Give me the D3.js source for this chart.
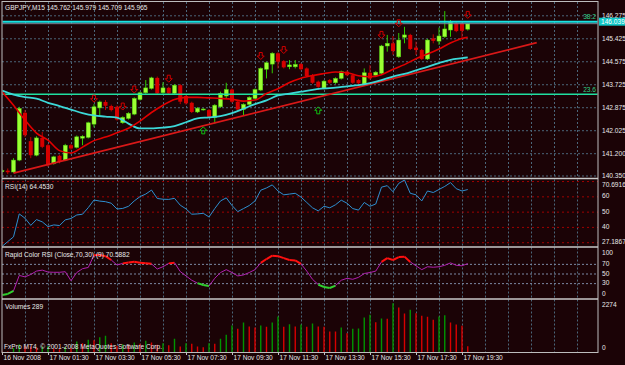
<!DOCTYPE html>
<html>
<head>
<meta charset="utf-8">
<script src="https://cdn.jsdelivr.net/npm/d3@7"></script>
<style>
	body { margin: 0; background: #1b0306; overflow: hidden; }
	svg text { font-family: "Liberation Sans", Arial, sans-serif; font-size: 6.6px; fill: #e8e8e8; }
	.grid path { display: none; }
	.grid line { stroke: #4b6679; stroke-dasharray: 2,2; }
	.level-red line { stroke: #a00000; stroke-dasharray: 2,3; }
	.level-gray line { stroke: #7d8aa5; stroke-dasharray: 2,2; }
	.axis path { display: none; }
	.axis line { stroke: #c0c0c0; }
</style>
</head>
<body>
<div id="svg-div"></div>
<script>
// GBPJPY M15 candles
var opens = [140.49,140.53,140.48,140.92,142.67,141.62,141.10,141.74,141.47,140.79,141.08,140.92,141.47,141.39,141.73,141.76,142.25,142.85,143.07,142.92,
	142.89,142.30,142.46,142.62,143.16,143.41,143.57,143.96,143.41,143.59,143.39,143.69,143.29,143.04,142.70,142.78,142.77,142.50,142.89,143.29,
	143.53,143.08,142.79,142.98,143.20,143.51,144.28,144.47,144.87,144.58,144.37,144.37,144.47,144.31,144.06,143.82,143.57,143.88,143.78,143.94,
	144.19,144.06,143.88,143.73,144.15,144.06,144.13,145.14,145.24,144.74,145.46,145.55,145.08,144.99,144.66,145.42,145.32,145.48,145.73,145.98,
	145.98,145.762];
var highs = [140.58,140.61,140.99,142.89,142.77,141.77,141.80,141.96,141.52,141.08,141.12,141.52,141.52,141.83,141.84,142.34,142.99,143.12,143.14,142.97,
	142.94,142.54,142.69,143.24,143.45,143.88,144.00,144.01,143.80,143.63,143.73,143.73,143.33,143.08,142.88,142.84,142.81,142.99,143.45,143.78,
	143.57,143.12,143.02,143.28,143.57,144.35,144.56,144.91,144.91,144.62,144.62,144.62,144.51,144.35,144.10,143.86,143.88,143.92,143.98,144.23,
	144.23,144.10,143.92,144.31,144.43,144.21,145.18,145.55,145.51,145.62,145.85,145.59,145.30,145.03,145.40,145.57,145.82,146.43,146.10,146.05,
	146.02,145.979];
var lows = [140.43,140.40,140.44,140.88,141.77,140.99,141.06,141.36,140.67,140.75,140.80,140.88,141.30,141.35,141.47,141.72,142.13,142.55,142.77,142.72,
	142.38,142.26,142.42,142.58,143.12,143.37,143.53,143.35,143.37,143.35,143.35,142.99,142.97,142.66,142.66,142.75,142.48,142.27,142.85,143.20,
	143.04,142.75,142.58,142.94,143.16,143.47,143.94,144.13,144.31,144.31,144.28,144.31,144.24,143.99,143.74,143.51,143.53,143.74,143.74,143.90,
	144.02,143.74,143.72,143.69,143.90,144.02,144.09,144.93,144.81,144.70,145.24,144.99,144.81,144.62,144.62,145.24,145.18,145.44,145.48,145.65,
	145.44,145.709];
var closes = [140.53,140.47,140.92,142.83,141.84,141.10,141.74,141.41,140.73,141.04,140.85,141.47,141.35,141.78,141.80,142.30,142.89,143.07,142.93,142.77,
	142.42,142.50,142.65,143.20,143.41,143.59,143.96,143.39,143.59,143.39,143.69,143.08,143.02,142.70,142.84,142.81,142.52,142.95,143.39,143.53,
	143.08,142.79,142.98,143.24,143.53,144.31,144.52,144.87,144.56,144.35,144.44,144.46,144.28,144.03,143.78,143.63,143.84,143.78,143.94,144.19,
	144.06,143.78,143.76,144.15,143.94,144.17,145.14,145.24,144.95,145.36,145.55,145.03,144.99,144.66,145.36,145.33,145.51,145.77,146.02,145.69,
	145.70,145.965];
var volumes = [80,40,200,380,300,260,230,270,300,180,150,260,200,500,423,578,560,696,760,420,
	300,380,330,460,400,532,455,350,420,330,623,273,423,396,273,241,423,400,623,805,
	1228,1078,1364,1182,1137,1228,1167,1364,1637,1167,1288,1182,1273,1167,1319,1182,1170,955,955,1137,
	879,1078,1091,1592,1713,1380,1546,1531,2243,2047,1774,1941,1788,1667,1622,1485,1637,1698,1364,1273,
	1213,289];
var rsiValues = [27.19,30.4,33.5,48.5,45.7,41,44.8,43.3,40.2,41.3,40.9,44.6,45.5,47.8,48.3,52.6,57.6,56.9,56.5,55.5,
	51.7,52.1,53.5,57,59.8,61.5,64.1,58.6,58.1,58,58.7,54.2,51.8,48.3,48.5,48.9,46.5,52,57,59,
	54,50,52,54,57,64,65.5,67.5,63.5,61,61.5,62,59.5,56,52.5,50.5,53.5,52.5,54.5,57.5,
	55.5,52,51,56,53.5,55,66,67,63,68.5,70.69,62,61,57,63.5,62.5,64.5,66.5,69,65,
	63.5,64.45];
var rapidRsiValues = [5.4,7.5,14,46,43,48,55,57,53,52.5,52.5,53.7,35,52,60,62.5,88,88.3,86,78,
	67.6,71,73,74.5,72.4,71.5,70,59.3,64.1,71,72.4,54,45,36,30,26,24,40,52,58,
	52,45,47,52,58,72,80,87,86,82,78,77,70,55,38,27,22,20,25,36,
	40,38,42,50,52,55,74,82,78,84,85,74,66,58,64,63,64,67,72,67,
	66,70.59];

// moving averages as [bar, price]
var maFast = [[0,143.45],[2,142.95],[4,142.40],[6,141.92],[8,141.66],[10,141.27],[12,141.18],[14,141.40],[16,141.64],[18,141.77],
	[20,141.93],[22,142.10],[24,142.36],[26,142.68],[28,142.95],[30,143.16],[32,143.24],[34,143.24],[36,143.22],[38,143.20],
	[40,143.17],[42,143.10],[44,143.14],[46,143.38],[48,143.56],[50,143.79],[52,143.95],[54,144.05],[56,144.12],[58,144.18],
	[60,144.15],[62,144.04],[64,144.00],[66,144.08],[68,144.28],[70,144.45],[72,144.67],[74,144.84],[76,145.03],[78,145.25],
	[80,145.42],[81,145.46]];
var maSlow = [[0,143.49],[2,143.34],[4,143.25],[6,143.19],[8,143.04],[10,142.92],[12,142.79],[14,142.66],[16,142.57],[18,142.53],
	[20,142.49],[22,142.27],[24,142.09],[26,142.09],[28,142.12],[30,142.18],[32,142.32],[34,142.46],[36,142.50],[38,142.55],
	[40,142.66],[42,142.82],[44,142.99],[46,143.13],[48,143.31],[50,143.38],[52,143.45],[54,143.52],[56,143.57],[58,143.60],
	[60,143.65],[62,143.69],[64,143.77],[66,143.88],[68,144.01],[70,144.11],[72,144.24],[74,144.37],[76,144.51],[78,144.63],
	[80,144.69],[81,144.72]];
var trendLine = [[2,140.44],[93,145.26]];
var fibNames = ["38.2","23.6"];
var fibPrices = [146.039,143.353];
var bidPrice = 145.965;
var downArrows = [[16,143.19],[21,142.90],[23,143.53],[29,143.93],[45,144.77],[49,144.99],[66,145.55],[69,145.98],[81,146.29]];
var upArrows = [[35,142.02],[55,142.76]];

// axis ticks
var priceTicks = [146.275,145.425,144.575,143.725,142.875,142.025,141.175,140.35];
var priceLabels = ["146.275","145.425","144.575","143.725","142.875","142.025","141.200","140.350"];
var timeTicks = [0,8,16,24,32,40,48,56,64,72,80];
var timeLabels = ["16 Nov 2008","17 Nov 01:30","17 Nov 03:30","17 Nov 05:30","17 Nov 07:30","17 Nov 09:30",
	"17 Nov 11:30","17 Nov 13:30","17 Nov 15:30","17 Nov 17:30","17 Nov 19:30"];
var rsiTicks = [70.6916,60,50,40,27.1867];
var rsiLevels = [30,40,50,60,70];
var rapidTicks = [100,70,50,30,0];
var rapidLevels = [30,50,70];
var volTicks = [2274,0];

/**
 *  Chart Code
 */
var chart = {
	width: 625,
	height: 365,
	left: 2,
	right: 598,
	panels: {
		main: [2, 178],
		rsi: [179.5, 246.5],
		rapid: [247.5, 298.5],
		vol: [299.5, 352.5]
	}
};

var svg = d3.select("#svg-div")
	.append("svg")
	.attr("width", chart.width)
	.attr("height", chart.height);

svg.append("rect")
	.attr("width", chart.width)
	.attr("height", chart.height)
	.attr("fill", "#1b0306");

var defs = svg.append("defs");
Object.keys(chart.panels).forEach(function(k) {
	var p = chart.panels[k];
	defs.append("clipPath").attr("id", "clip-" + k)
		.append("rect")
		.attr("x", chart.left + 0.5)
		.attr("y", p[0])
		.attr("width", chart.right - chart.left - 1)
		.attr("height", p[1] - p[0]);
});

// Scales
var xScale = d3.scaleLinear().domain([0, 100]).range([2, 577]);
var yMain = d3.scaleLinear().domain([140.35, 146.275]).range([175.5, 15.3]);
var yRsi = d3.scaleLinear().domain([27.1867, 70.6916]).range([246.5, 180]);
var yRapid = d3.scaleLinear().domain([0, 100]).range([297.6, 249.4]);
var yVol = d3.scaleLinear().domain([0, 2274]).range([352.5, 302.5]);

// Gridlines
var gridTicks = d3.range(4, 104, 4);
Object.keys(chart.panels).forEach(function(k) {
	var p = chart.panels[k];
	svg.append("g")
		.attr("class", "grid")
		.attr("transform", "translate(0," + p[0] + ")")
		.call(d3.axisBottom(xScale).tickValues(gridTicks).tickSize(p[1] - p[0]).tickFormat(""));
});

svg.append("g")
	.attr("class", "grid")
	.attr("transform", "translate(" + chart.left + ",0)")
	.call(d3.axisRight(yMain).tickValues(priceTicks).tickSize(chart.right - chart.left).tickFormat(""));

svg.append("g")
	.attr("class", "grid level-red")
	.attr("transform", "translate(" + chart.left + ",0)")
	.call(d3.axisRight(yRsi).tickValues(rsiLevels).tickSize(chart.right - chart.left).tickFormat(""));

svg.append("g")
	.attr("class", "grid level-gray")
	.attr("transform", "translate(" + chart.left + ",0)")
	.call(d3.axisRight(yRapid).tickValues(rapidLevels).tickSize(chart.right - chart.left).tickFormat(""));

// Main panel
var mainG = svg.append("g").attr("clip-path", "url(#clip-main)");

var bars = opens.map(function(o, i) {
	return { i: i, o: o, h: highs[i], l: lows[i], c: closes[i] };
});

mainG.selectAll("line.wick")
	.data(bars)
	.enter()
	.append("line")
	.attr("class", "wick")
	.attr("x1", function(d) { return xScale(d.i); })
	.attr("x2", function(d) { return xScale(d.i); })
	.attr("y1", function(d) { return yMain(d.h); })
	.attr("y2", function(d) { return yMain(d.l); })
	.attr("stroke", function(d) { return d.c >= d.o ? "#2fcc00" : "#c00000"; })
	.attr("stroke-width", 1);

mainG.selectAll("rect.body")
	.data(bars)
	.enter()
	.append("rect")
	.attr("class", "body")
	.attr("x", function(d) { return xScale(d.i) - 2; })
	.attr("width", 4)
	.attr("y", function(d) { return yMain(Math.max(d.o, d.c)); })
	.attr("height", function(d) { return Math.max(1, Math.abs(yMain(d.o) - yMain(d.c))); })
	.attr("fill", function(d) { return d.c >= d.o ? "#9cff33" : "#d60000"; })
	.attr("stroke", function(d) { return d.c >= d.o ? "#4ccc10" : "none"; })
	.attr("stroke-width", 0.5);

// fibo levels + bid line
mainG.selectAll("line.fib")
	.data(fibPrices)
	.enter()
	.append("line")
	.attr("x1", chart.left)
	.attr("x2", chart.right)
	.attr("y1", function(d) { return yMain(d); })
	.attr("y2", function(d) { return yMain(d); })
	.attr("stroke", function(d, i) { return i == 0 ? "#19e3e3" : "#20e0a0"; })
	.attr("stroke-width", function(d, i) { return i == 0 ? 2 : 1.5; });

mainG.append("line")
	.attr("x1", chart.left).attr("x2", chart.right)
	.attr("y1", yMain(bidPrice)).attr("y2", yMain(bidPrice))
	.attr("stroke", "#778899")
	.attr("stroke-width", 1);

mainG.selectAll("text.fib")
	.data(fibPrices)
	.enter()
	.append("text")
	.attr("x", chart.right - 2)
	.attr("y", function(d) { return yMain(d) - 2.5; })
	.attr("text-anchor", "end")
	.style("fill", "#2fd38a")
	.text(function(d, i) { return fibNames[i]; });

// lines
var lineFn = d3.line()
	.x(function(d) { return xScale(d[0]); })
	.y(function(d) { return yMain(d[1]); })
	.curve(d3.curveMonotoneX);

mainG.append("path").datum(trendLine)
	.attr("d", d3.line().x(function(d) { return xScale(d[0]); }).y(function(d) { return yMain(d[1]); }))
	.attr("fill", "none").attr("stroke", "#d81818").attr("stroke-width", 1.8);

mainG.append("path").datum(maSlow)
	.attr("d", lineFn)
	.attr("fill", "none").attr("stroke", "#3cd8d8").attr("stroke-width", 1.8);

mainG.append("path").datum(maFast)
	.attr("d", lineFn)
	.attr("fill", "none").attr("stroke", "#e00000").attr("stroke-width", 1.6);

// arrows
function arrowPath(d, dir) {
	var cx = xScale(d[0]), cy = yMain(d[1]), s = dir;
	return "M" + (cx - 1.5) + "," + (cy - 3.5 * s) + "L" + (cx + 1.5) + "," + (cy - 3.5 * s) +
		"L" + (cx + 1.5) + "," + cy + "L" + (cx + 3.5) + "," + cy + "L" + cx + "," + (cy + 3.5 * s) +
		"L" + (cx - 3.5) + "," + cy + "L" + (cx - 1.5) + "," + cy + "Z";
}
mainG.selectAll("path.down")
	.data(downArrows)
	.enter()
	.append("path")
	.attr("d", function(d) { return arrowPath(d, 1); })
	.attr("fill", "none").attr("stroke", "#d00000").attr("stroke-width", 1);
mainG.selectAll("path.up")
	.data(upArrows)
	.enter()
	.append("path")
	.attr("d", function(d) { return arrowPath(d, -1); })
	.attr("fill", "none").attr("stroke", "#10c010").attr("stroke-width", 1);

// RSI panel
svg.append("g").attr("clip-path", "url(#clip-rsi)")
	.append("path").datum(rsiValues)
	.attr("d", d3.line().x(function(d, i) { return xScale(i); }).y(function(d) { return yRsi(d); }))
	.attr("fill", "none").attr("stroke", "#2e8fd0").attr("stroke-width", 1);

// Rapid color RSI panel
var rapidG = svg.append("g").attr("clip-path", "url(#clip-rapid)");
var rapidSegs = d3.range(rapidRsiValues.length - 1).map(function(i) {
	return { i: i, a: rapidRsiValues[i], b: rapidRsiValues[i + 1] };
});
rapidG.selectAll("line")
	.data(rapidSegs)
	.enter()
	.append("line")
	.attr("x1", function(d) { return xScale(d.i); })
	.attr("x2", function(d) { return xScale(d.i + 1); })
	.attr("y1", function(d) { return yRapid(d.a); })
	.attr("y2", function(d) { return yRapid(d.b); })
	.attr("stroke", function(d) {
		if (d.a >= 70 && d.b >= 70) return "#ff1010";
		if (d.a <= 30 && d.b <= 30) return "#30d030";
		return "#b020b0";
	})
	.attr("stroke-width", function(d) {
		return (d.a >= 70 && d.b >= 70) || (d.a <= 30 && d.b <= 30) ? 2 : 1;
	});

// Volumes panel
svg.append("g").attr("clip-path", "url(#clip-vol)")
	.selectAll("line")
	.data(volumes)
	.enter()
	.append("line")
	.attr("x1", function(d, i) { return xScale(i); })
	.attr("x2", function(d, i) { return xScale(i); })
	.attr("y1", yVol(0))
	.attr("y2", function(d) { return yVol(d); })
	.attr("stroke", function(d, i) { return i > 0 && d > volumes[i - 1] ? "#009400" : "#d80000"; })
	.attr("stroke-width", 1.4);

// Frame and separators
svg.append("rect")
	.attr("x", chart.left).attr("y", 1.5)
	.attr("width", chart.right - chart.left).attr("height", 351)
	.attr("fill", "none").attr("stroke", "#bdbdbd").attr("stroke-width", 1);
[178.5, 247, 299].forEach(function(y) {
	svg.append("line")
		.attr("x1", chart.left).attr("x2", chart.right)
		.attr("y1", y).attr("y2", y)
		.attr("stroke", "#c8c8c8").attr("stroke-width", 1.5);
});

// Axes
var yAxisMain = svg.append("g")
	.attr("class", "axis")
	.attr("transform", "translate(" + chart.right + ",0)")
	.call(d3.axisRight(yMain).tickValues(priceTicks).tickSize(0).tickPadding(4)
		.tickFormat(function(d, i) { return priceLabels[i]; }));

function sideLabels(ticks, scale, panel, labels) {
	svg.selectAll(null)
		.data(ticks)
		.enter()
		.append("text")
		.attr("x", chart.right + 4)
		.attr("y", function(d) { return Math.max(panel[0] + 5, Math.min(panel[1] - 5, scale(d))); })
		.attr("dy", "0.32em")
		.text(function(d, i) { return labels ? labels[i] : d; });
}
sideLabels(rsiTicks, yRsi, chart.panels.rsi);
sideLabels(rapidTicks, yRapid, chart.panels.rapid);
sideLabels(volTicks, yVol, chart.panels.vol);

var xAxis = svg.append("g")
	.attr("class", "axis")
	.attr("transform", "translate(0," + chart.panels.vol[1] + ")")
	.call(d3.axisBottom(xScale).tickValues(timeTicks).tickSize(2.5).tickPadding(0.5)
		.tickFormat(function(d, i) { return timeLabels[i]; }));
xAxis.selectAll("text").attr("text-anchor", "start").attr("x", 1);

// level label on price scale
var boxY = yMain(fibPrices[0]);
svg.append("rect")
	.attr("x", chart.right + 1).attr("y", boxY - 4)
	.attr("width", 27).attr("height", 8)
	.attr("fill", "#12c8c8");
svg.append("text")
	.attr("x", chart.right + 3).attr("y", boxY).attr("dy", "0.32em")
	.style("fill", "#ffffff")
	.text(fibPrices[0].toFixed(3));

// Titles
svg.append("text").attr("x", 5).attr("y", 9.5).text("GBPJPY,M15  145.762 145.979 145.709 145.965");
svg.append("text").attr("x", 5).attr("y", 189).text("RSI(14) 64.4530");
svg.append("text").attr("x", 5).attr("y", 257).text("Rapid Color RSI (Close,70,30) (9) 70.5882");
svg.append("text").attr("x", 5).attr("y", 309).text("Volumes 289");
svg.append("text").attr("x", 4).attr("y", 348.5).text("FxPro MT4, \u00a9 2001-2008 MetaQuotes Software Corp.");
</script>
</body>
</html>
